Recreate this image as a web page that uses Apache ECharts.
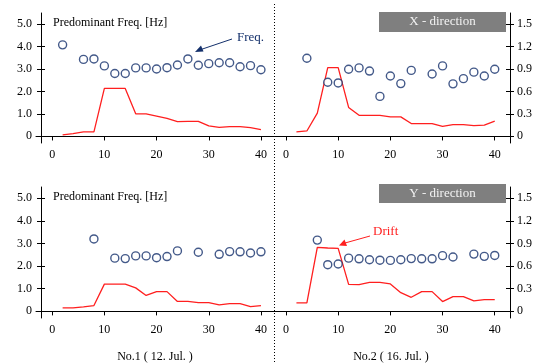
<!DOCTYPE html>
<html>
<head>
<meta charset="utf-8">
<script src="https://cdn.jsdelivr.net/npm/echarts@6/dist/echarts.min.js"></script>
<style>
  html, body { margin: 0; padding: 0; background: #fff; }
  #main { width: 543px; height: 363px; }
</style>
</head>
<body>
<div id="main"></div>
<script>
// x positions of the drift line (every 2)
const driftX = [2, 4, 6, 8, 10, 12, 14, 16, 18, 20, 22, 24, 26, 28, 30, 32, 34, 36, 38, 40]

// No.1 X-direction
const freqX1 = [2, 6, 8, 10, 12, 14, 16, 18, 20, 22, 24, 26, 28, 30, 32, 34, 36, 38, 40]
const freqX1Val = [4.08, 3.43, 3.45, 3.14, 2.80, 2.80, 3.05, 3.05, 3.00, 3.06, 3.18, 3.45, 3.17, 3.24, 3.28, 3.28, 3.10, 3.15, 2.97]
const driftX1 = [0.02, 0.035, 0.06, 0.06, 0.64, 0.64, 0.64, 0.30, 0.30, 0.27, 0.24, 0.195, 0.20, 0.20, 0.14, 0.12, 0.13, 0.13, 0.115, 0.09]

// No.2 X-direction
const freqX2 = [4, 8, 10, 12, 14, 16, 18, 20, 22, 24, 28, 30, 32, 34, 36, 38, 40]
const freqX2Val = [3.48, 2.41, 2.38, 2.99, 3.05, 2.91, 1.78, 2.69, 2.35, 2.94, 2.78, 3.14, 2.34, 2.57, 2.86, 2.69, 2.99]
const driftX2 = [0.058, 0.071, 0.31, 0.92, 0.92, 0.386, 0.28, 0.28, 0.28, 0.26, 0.26, 0.17, 0.17, 0.17, 0.133, 0.155, 0.155, 0.142, 0.15, 0.204]

// No.1 Y-direction
const freqY1 = [8, 12, 14, 16, 18, 20, 22, 24, 28, 32, 34, 36, 38, 40]
const freqY1Val = [3.2, 2.35, 2.33, 2.45, 2.45, 2.37, 2.42, 2.67, 2.61, 2.52, 2.64, 2.63, 2.58, 2.63]
const driftY1 = [0.044, 0.044, 0.058, 0.075, 0.36, 0.36, 0.36, 0.31, 0.21, 0.26, 0.26, 0.13, 0.13, 0.115, 0.115, 0.084, 0.10, 0.10, 0.062, 0.075]

// No.2 Y-direction
const freqY2 = [6, 8, 10, 12, 14, 16, 18, 20, 22, 24, 26, 28, 30, 32, 36, 38, 40]
const freqY2Val = [3.15, 2.06, 2.09, 2.35, 2.32, 2.28, 2.26, 2.25, 2.28, 2.33, 2.32, 2.32, 2.46, 2.40, 2.53, 2.43, 2.47]
const driftY2 = [0.11, 0.11, 0.847, 0.84, 0.834, 0.357, 0.353, 0.384, 0.384, 0.362, 0.247, 0.185, 0.26, 0.26, 0.128, 0.194, 0.194, 0.137, 0.154, 0.154]

// tick labels
const xTicks = [0, 10, 20, 30, 40]
const freqTicks = [0, 1, 2, 3, 4, 5]
const driftTicks = [0, 0.3, 0.6, 0.9, 1.2, 1.5]

const FONT = 'Liberation Serif'
const NAVY = '#14306b'
const RED = '#ff1f1f'

const grids = [
    { left: 36, top: 13, width: 238, height: 130 },
    { left: 274, top: 13, width: 239, height: 130 },
    { left: 36, top: 187, width: 238, height: 131 },
    { left: 274, top: 187, width: 239, height: 131 },
]

const xAxes = []
const yAxes = []
const series = []

function pairs(xs, ys) {
    return xs.map((x, i) => [x, ys[i]])
}

function addPanel(g, isLeft, fx, fv, dv) {
    const xRange = isLeft ? [-3.1, 42.5] : [-2.3, 43.5]
    const yL = yAxes.length
    // left freq axis: outside ticks + labels
    yAxes.push({
        type: 'value', gridIndex: g, position: 'left', min: -0.3, max: 5.5,
        show: isLeft, offset: -5,
        axisLine: { show: true, onZero: false, lineStyle: { color: '#000', width: 1 } },
        axisTick: { show: true, length: 4, customValues: freqTicks, lineStyle: { color: '#000' } },
        axisLabel: { customValues: freqTicks, formatter: v => (v === 0 ? '0' : v.toFixed(1)), margin: 9, color: '#000', fontFamily: FONT, fontSize: 12 },
        splitLine: { show: false },
    })
    // inside ticks for the left axis
    yAxes.push({
        type: 'value', gridIndex: g, position: 'left', min: -0.3, max: 5.5,
        show: isLeft, offset: -5,
        axisLine: { show: false, onZero: false },
        axisTick: { show: true, inside: true, length: 4, customValues: freqTicks, lineStyle: { color: '#000' } },
        axisLabel: { show: false },
        splitLine: { show: false },
    })
    const yR = yAxes.length
    yAxes.push({
        type: 'value', gridIndex: g, position: 'right', min: -0.09, max: 1.65,
        show: !isLeft, offset: -3,
        axisLine: { show: true, onZero: false, lineStyle: { color: '#000', width: 1 } },
        axisTick: { show: true, length: 4, customValues: driftTicks, lineStyle: { color: '#000' } },
        axisLabel: { customValues: driftTicks, formatter: v => (v === 0 ? '0' : v.toFixed(1)), margin: 7, color: '#000', fontFamily: FONT, fontSize: 12 },
        splitLine: { show: false },
    })
    yAxes.push({
        type: 'value', gridIndex: g, position: 'right', min: -0.09, max: 1.65,
        show: !isLeft, offset: -3,
        axisLine: { show: false, onZero: false },
        axisTick: { show: true, inside: true, length: 4, customValues: driftTicks, lineStyle: { color: '#000' } },
        axisLabel: { show: false },
        splitLine: { show: false },
    })
    const xi = xAxes.length
    xAxes.push({
        type: 'value', gridIndex: g, min: xRange[0], max: xRange[1],
        axisLine: { onZero: true, onZeroAxisIndex: yL, lineStyle: { color: '#000', width: 1 } },
        axisTick: { show: true, length: 4, customValues: xTicks, lineStyle: { color: '#000' } },
        axisLabel: { customValues: xTicks, margin: 6, color: '#000', fontFamily: FONT, fontSize: 12 },
        splitLine: { show: false },
    })
    xAxes.push({
        type: 'value', gridIndex: g, min: xRange[0], max: xRange[1],
        axisLine: { show: false, onZero: true, onZeroAxisIndex: yL },
        axisTick: { show: true, inside: true, length: 4, customValues: xTicks, lineStyle: { color: '#000' } },
        axisLabel: { show: false },
        splitLine: { show: false },
    })
    series.push({
        type: 'line', xAxisIndex: xi, yAxisIndex: yR,
        data: pairs(driftX, dv), showSymbol: false, symbol: 'none',
        lineStyle: { color: RED, width: 1.3 }, z: 2,
    })
    series.push({
        type: 'scatter', xAxisIndex: xi, yAxisIndex: yL,
        data: pairs(fx, fv), symbol: 'circle', symbolSize: 8,
        itemStyle: { color: '#fff', borderColor: NAVY, borderWidth: 1.4 }, z: 3,
    })
}

addPanel(0, true, freqX1, freqX1Val, driftX1)
addPanel(1, false, freqX2, freqX2Val, driftX2)
addPanel(2, true, freqY1, freqY1Val, driftY1)
addPanel(3, false, freqY2, freqY2Val, driftY2)

const textStyle = { fontFamily: FONT, fontSize: 12, fill: '#000' }

const chart = echarts.init(document.getElementById('main'), null, { renderer: 'canvas' })
chart.setOption({
    animation: false,
    backgroundColor: '#fff',
    grid: grids,
    xAxis: xAxes,
    yAxis: yAxes,
    series: series,
    graphic: [
        // divider
        { type: 'line', shape: { x1: 274.5, y1: 4, x2: 274.5, y2: 363 }, style: { stroke: '#000', lineWidth: 1, lineDash: [1, 2] }, z: 10 },
        // panel captions
        { type: 'text', left: 53, top: 17, style: Object.assign({}, textStyle, { text: 'Predominant Freq. [Hz]' }) },
        { type: 'text', left: 53, top: 191, style: Object.assign({}, textStyle, { text: 'Predominant Freq. [Hz]' }) },
        { type: 'rect', shape: { x: 379, y: 12, width: 127, height: 20 }, style: { fill: '#7f7f7f' } },
        { type: 'text', x: 442.5, y: 22, style: { text: 'X - direction', fontFamily: FONT, fontSize: 13, fill: '#f2f2f2', align: 'center', verticalAlign: 'middle' } },
        { type: 'rect', shape: { x: 379, y: 184, width: 127, height: 19 }, style: { fill: '#7f7f7f' } },
        { type: 'text', x: 442.5, y: 193.5, style: { text: 'Y - direction', fontFamily: FONT, fontSize: 13, fill: '#f2f2f2', align: 'center', verticalAlign: 'middle' } },
        // bottom labels
        { type: 'text', x: 155, y: 357, style: Object.assign({}, textStyle, { text: 'No.1 ( 12. Jul. )', align: 'center', verticalAlign: 'middle' }) },
        { type: 'text', x: 391, y: 357, style: Object.assign({}, textStyle, { text: 'No.2 ( 16. Jul. )', align: 'center', verticalAlign: 'middle' }) },
        // Freq. annotation
        { type: 'text', x: 237, y: 38, style: { text: 'Freq.', fontFamily: FONT, fontSize: 13, fill: NAVY, verticalAlign: 'middle' } },
        { type: 'line', shape: { x1: 232, y1: 39, x2: 201, y2: 49.5 }, style: { stroke: NAVY, lineWidth: 1 } },
        { type: 'polygon', shape: { points: [[195, 52], [201, 45.5], [203.5, 51.5]] }, style: { fill: NAVY } },
        // Drift annotation
        { type: 'text', x: 373, y: 232, style: { text: 'Drift', fontFamily: FONT, fontSize: 13, fill: RED, verticalAlign: 'middle' } },
        { type: 'line', shape: { x1: 370, y1: 236, x2: 345, y2: 243 }, style: { stroke: RED, lineWidth: 1 } },
        { type: 'polygon', shape: { points: [[339, 245.5], [344.5, 239.5], [347, 246]] }, style: { fill: RED } },
    ],
})
</script>
</body>
</html>
